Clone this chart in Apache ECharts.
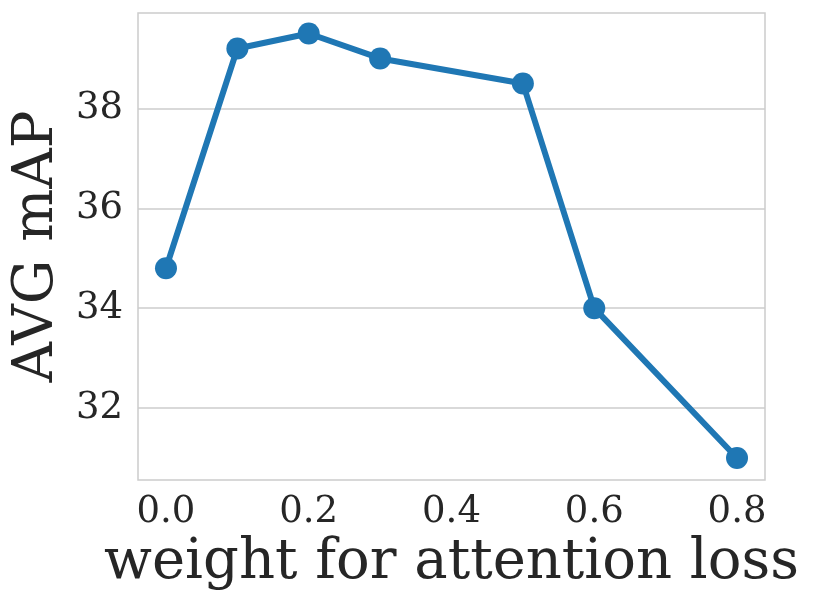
<!DOCTYPE html>
<html>
<head>
<meta charset="utf-8">
<script src="https://cdn.jsdelivr.net/npm/echarts@6/dist/echarts.min.js"></script>
<style>
    html, body { margin: 0; padding: 0; background: #fff; }
    #chart { width: 813px; height: 607px; }
</style>
</head>
<body>
<div id="chart"></div>
<script>
// values
var weights = [0, 0.1, 0.2, 0.3, 0.5, 0.6, 0.8];
var avgMap = [34.8, 39.2, 39.5, 39.0, 38.5, 34.0, 31.0];
var xTicks = [0, 0.2, 0.4, 0.6, 0.8];
var yTicks = [32, 34, 36, 38];

var textColor = '#262626',
    gridColor = '#cccccc',
    lineColor = '#1f77b4',
    font = 'DejaVu Serif';

var points = weights.map(function(w, i){
    return [w, avgMap[i]];
});

var chart = echarts.init(document.getElementById('chart'), null, {renderer: 'canvas'});
var option = {
    animation: false,
    backgroundColor: '#fff',
    grid: {
        left: 138,
        right: 48,
        top: 13,
        bottom: 127,
        show: true,
        borderColor: gridColor,
        borderWidth: 1.5
    },
    xAxis: {
        type: 'value',
        min: -0.0392,
        max: 0.8392,
        name: 'weight for attention loss',
        nameLocation: 'middle',
        nameGap: 55,
        nameTextStyle: {
            fontFamily: font,
            fontSize: 56,
            color: textColor
        },
        axisLine: {show: false},
        axisTick: {show: false, customValues: xTicks},
        splitLine: {show: false},
        axisLabel: {
            customValues: xTicks,
            margin: 14,
            fontFamily: font,
            fontSize: 37,
            color: textColor,
            formatter: function(v){ return v.toFixed(1); }
        }
    },
    yAxis: {
        type: 'value',
        min: 30.56,
        max: 39.91,
        name: 'AVG mAP',
        nameLocation: 'middle',
        nameGap: 72,
        nameTextStyle: {
            fontFamily: font,
            fontSize: 56,
            color: textColor
        },
        axisLine: {show: false},
        axisTick: {show: false, customValues: yTicks},
        splitLine: {
            show: true,
            lineStyle: {color: gridColor, width: 1.5}
        },
        axisLabel: {
            customValues: yTicks,
            margin: 15,
            fontFamily: font,
            fontSize: 37,
            color: textColor
        }
    },
    series: [{
        type: 'line',
        data: points,
        symbol: 'circle',
        symbolSize: 22,
        lineStyle: {color: lineColor, width: 6},
        itemStyle: {color: lineColor}
    }]
};
chart.setOption(option);
</script>
</body>
</html>
